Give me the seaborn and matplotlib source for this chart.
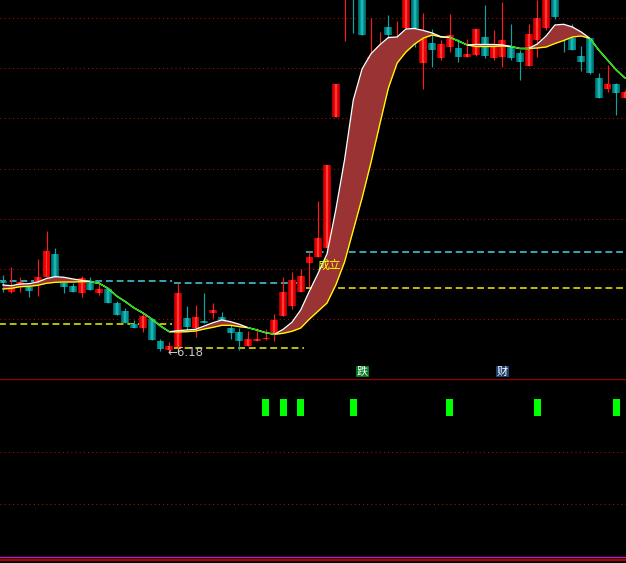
import numpy as np
import matplotlib
matplotlib.use("Agg")
import matplotlib.pyplot as plt
import seaborn as sns

# ---------------- data ----------------
open_ = [6.89, 6.78, 6.85, 6.83, 6.88, 6.93, 7.16, 6.87, 6.84, 6.77,
         6.87, 6.77, 6.81, 6.67, 6.59, 6.46, 6.42, 6.51, 6.29, 6.20,
         6.23, 6.52, 6.42, 6.49, 6.57, 6.53, 6.42, 6.38, 6.24, 6.29,
         6.31, 6.36, 6.54, 6.64, 6.78, 7.07, 7.13, 7.22, 8.53, 9.80,
         10.30, 10.00, 8.95, 9.00, 9.43, 9.15, 9.42, 9.90, 9.07, 9.27,
         9.12, 9.23, 9.22, 9.13, 9.15, 9.33, 9.12, 9.13, 9.23, 9.17,
         9.04, 9.30, 9.42, 9.80, 9.40, 9.32, 9.14, 9.32, 8.92, 8.81,
         8.86, 8.72]
high = [6.95, 7.03, 6.93, 6.84, 7.11, 7.39, 7.22, 6.88, 6.87, 6.94,
        6.93, 6.88, 6.82, 6.69, 6.62, 6.50, 6.58, 6.52, 6.31, 6.28,
        6.87, 6.64, 6.65, 6.77, 6.67, 6.58, 6.46, 6.42, 6.39, 6.42,
        6.41, 6.56, 6.93, 6.98, 7.01, 7.18, 7.69, 8.05, 8.86, 10.40,
        10.40, 10.10, 9.52, 9.38, 9.55, 9.49, 10.00, 10.00, 9.57, 9.41,
        9.30, 9.56, 9.31, 9.31, 9.41, 9.65, 9.40, 9.68, 9.46, 9.20,
        9.46, 9.70, 9.95, 9.90, 9.45, 9.46, 9.24, 9.32, 8.97, 9.05,
        8.87, 8.80]
low = [6.78, 6.77, 6.78, 6.73, 6.74, 6.93, 6.90, 6.77, 6.78, 6.73,
       6.80, 6.75, 6.67, 6.55, 6.47, 6.42, 6.38, 6.30, 6.19, 6.18,
       6.22, 6.40, 6.33, 6.47, 6.52, 6.50, 6.31, 6.20, 6.24, 6.29,
       6.30, 6.29, 6.54, 6.61, 6.78, 6.83, 7.13, 7.22, 8.53, 9.29,
       9.37, 9.35, 8.80, 8.90, 9.30, 9.10, 9.40, 9.23, 8.81, 9.03,
       9.10, 9.18, 9.08, 9.13, 9.14, 9.12, 9.10, 9.03, 9.10, 8.90,
       9.04, 9.13, 9.40, 9.51, 9.18, 9.20, 8.99, 8.96, 8.72, 8.78,
       8.55, 8.72]
close = [6.87, 6.82, 6.88, 6.79, 6.93, 7.19, 6.93, 6.83, 6.78, 6.92,
         6.80, 6.81, 6.67, 6.55, 6.47, 6.42, 6.54, 6.30, 6.21, 6.24,
         6.77, 6.43, 6.53, 6.47, 6.60, 6.50, 6.37, 6.29, 6.31, 6.31,
         6.32, 6.50, 6.78, 6.90, 6.94, 7.13, 7.32, 8.05, 8.86, 10.30,
         9.80, 9.35, 9.13, 9.23, 9.35, 9.30, 9.90, 9.42, 9.37, 9.20,
         9.26, 9.35, 9.13, 9.16, 9.41, 9.14, 9.23, 9.30, 9.12, 9.08,
         9.36, 9.52, 9.85, 9.53, 9.32, 9.20, 9.08, 8.97, 8.72, 8.86,
         8.77, 8.78]
fast_line = [6.850, 6.843, 6.860, 6.863, 6.880, 6.915, 6.933, 6.927, 6.910, 6.897,
             6.883, 6.867, 6.817, 6.740, 6.683, 6.620, 6.570, 6.510, 6.440, 6.383,
             6.393, 6.400, 6.407, 6.440, 6.473, 6.500, 6.483, 6.457, 6.423, 6.400,
             6.373, 6.357, 6.407, 6.477, 6.600, 6.790, 6.970, 7.160, 7.600, 8.100,
             8.700, 9.010, 9.160, 9.250, 9.325, 9.330, 9.410, 9.415, 9.395, 9.370,
             9.333, 9.327, 9.290, 9.250, 9.255, 9.255, 9.255, 9.250, 9.235, 9.215,
             9.215, 9.260, 9.340, 9.450, 9.457, 9.430, 9.380, 9.315, 9.200, 9.100,
             9.000, 8.920]
slow_line = [6.810, 6.817, 6.833, 6.837, 6.847, 6.867, 6.877, 6.880, 6.880, 6.883,
             6.883, 6.867, 6.817, 6.740, 6.683, 6.620, 6.570, 6.510, 6.440, 6.383,
             6.380, 6.383, 6.390, 6.410, 6.427, 6.447, 6.447, 6.433, 6.423, 6.400,
             6.373, 6.357, 6.367, 6.387, 6.420, 6.510, 6.590, 6.670, 6.850, 7.080,
             7.400, 7.720, 8.070, 8.450, 8.820, 9.070, 9.180, 9.260, 9.320, 9.350,
             9.330, 9.327, 9.290, 9.250, 9.235, 9.235, 9.235, 9.240, 9.235, 9.215,
             9.215, 9.220, 9.230, 9.265, 9.295, 9.330, 9.340, 9.315, 9.200, 9.100,
             9.000, 8.920]
signal_idx = [30, 32, 34, 40, 51, 61, 70]
signal_low, signal_high = 147, 164

seg_start = [-0.4, 19.6, 34.6]
seg_end = [19.3, 34.4, 71.5]
level_cyan = [6.887, 6.867, 7.177]
level_yellow = [6.457, 6.217, 6.817]
grid_levels = [9.517, 9.017, 8.517, 8.007, 7.507, 7.007, 6.507]

low_label = "←6.18"
cheng_label = "成立"
tag_labels = ["跌", "财"]
tag_idx = [41, 57]

# ---------------- style ----------------
sns.set_theme(style="dark", rc={"axes.facecolor": "black", "figure.facecolor": "black"})
plt.rcParams['font.family'] = ['Noto Sans CJK SC', 'DejaVu Sans']

o = np.array(open_); h = np.array(high); l = np.array(low); c = np.array(close)
U = np.array(fast_line); L = np.array(slow_line)
n = len(o)
x = np.arange(n)

fig = plt.figure(figsize=(6.26, 5.63), dpi=100)
fig.patch.set_facecolor("black")
ax = fig.add_axes([0, 184 / 563, 1, 379 / 563])
axb = fig.add_axes([0, 0, 1, 184 / 563])
for a in (ax, axb):
    a.set_facecolor("black")
    a.set_xlim(-0.308, 71.11)
    a.set_xticks([]); a.set_yticks([])
    for s in a.spines.values():
        s.set_visible(False)
ax.set_ylim(5.91, 9.70)
axb.set_ylim(0, 184)

# grid
for g in grid_levels:
    ax.axhline(g, color="#c80000", lw=0.75, ls=(0, (1, 3)), zorder=0.5)
for g in [110.7, 58.7]:
    axb.axhline(g, color="#c80000", lw=0.75, ls=(0, (1, 3)), zorder=0.5)

# dashed levels
for xs, xe, yc, yy in zip(seg_start, seg_end, level_cyan, level_yellow):
    ax.hlines(yc, xs, xe, colors="#40d4e4", lw=1.1, linestyles=(0, (4.5, 2.5)), zorder=1)
    ax.hlines(yy, xs, xe, colors="#f0f000", lw=1.1, linestyles=(0, (4.5, 2.5)), zorder=1)

# candles
up = c >= o
wick_col = np.where(up, "#ff1a1a", "#14a0a0")
ax.vlines(x, l, h, colors=wick_col, lw=0.85, zorder=2)
bot = np.minimum(o, c)
hgt = np.maximum(np.abs(c - o), 0.012)
red_layers = ["#a80000", "#d80000", "#f40000", "#ff3a3a"]
teal_layers = ["#006464", "#007e7e", "#009898", "#22b2b2"]
widths = [0.9, 0.7, 0.48, 0.22]
for k, w in enumerate(widths):
    cols = np.where(up, red_layers[k], teal_layers[k])
    ax.bar(x, hgt, bottom=bot, width=w, color=cols, linewidth=0, zorder=3 + k * 0.01)

# band
ax.fill_between(x, L, U, where=U >= L, interpolate=True, color="#9a3434", lw=0, zorder=4)
sns.lineplot(x=x, y=L, ax=ax, color="#ffff00", lw=0.95, zorder=5)
sns.lineplot(x=x, y=U, ax=ax, color="white", lw=0.95, zorder=6)
merged = np.isclose(U, L, atol=1e-4)
green = np.full(n, np.nan)
for i in range(n - 1):
    if merged[i] and merged[i + 1] and U[i + 1] <= U[i]:
        green[i] = U[i]; green[i + 1] = U[i + 1]
ax.plot(x, green, color="#00e000", lw=0.95, zorder=7)

# texts
ax.text(18.85, 6.173, low_label, color="#c8c8c8", fontsize=8.5, ha="left", va="center",
        family=["DejaVu Sans"], zorder=8)
ax.text(35.9, 7.045, cheng_label, color="#ffff00", fontsize=8.5, ha="left", va="center", zorder=8)
ax.text(tag_idx[0], 5.985, tag_labels[0], color="white", fontsize=8, ha="center", va="center",
        bbox=dict(boxstyle="square,pad=0.08", fc="#007a20", ec="none"), zorder=8)
ax.text(tag_idx[1], 5.985, tag_labels[1], color="white", fontsize=8, ha="center", va="center",
        bbox=dict(boxstyle="square,pad=0.08", fc="#1b3f6e", ec="none"), zorder=8)

# lower panel signals
axb.bar(signal_idx, [signal_high - signal_low] * len(signal_idx), bottom=signal_low,
        width=0.8, color="#00ff00", linewidth=0, zorder=3)
axb.axhline(183.7, color="#9a0000", lw=1.0, zorder=4)
axb.axhline(6.0, color="#c020c0", lw=1.0, zorder=4)
axb.axhline(2.7, color="#b00000", lw=1.5, zorder=4)

fig.savefig("out.png", dpi=100, facecolor="black")
